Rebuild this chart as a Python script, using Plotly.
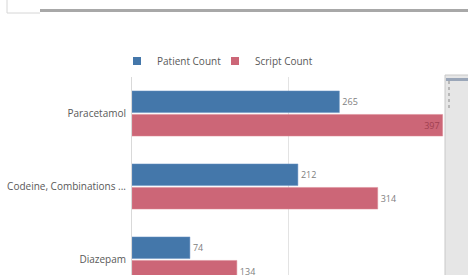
import plotly.graph_objects as go

categories = ["Paracetamol", "Codeine, Combinations ...", "Diazepam"]
patient_count = [265, 212, 74]
script_count = [397, 314, 134]
series_names = ["Patient Count", "Script Count"]
series_colors = ["#4477aa", "#cc6677"]

W, H = 468, 275
L, R, T, B = 132, 23, 77, 0
plot_w = W - L - R
plot_h = H - T - B
step = 73.0
ymax = plot_h / step - 0.5

font_family = "Open Sans, DejaVu Sans, sans-serif"

fig = go.Figure()
fig.add_trace(go.Bar(
    y=categories, x=patient_count, name=series_names[0], orientation="h",
    marker=dict(color=series_colors[0], line=dict(color="#6a93c4", width=0.5)),
    text=[str(v) for v in patient_count], textposition="outside",
    textfont=dict(size=9, color="#808080", family=font_family),
    cliponaxis=False, showlegend=False,
))
fig.add_trace(go.Bar(
    y=categories, x=script_count, name=series_names[1], orientation="h",
    marker=dict(color=series_colors[1], line=dict(color="#dd8a97", width=0.5)),
    text=[str(v) for v in script_count],
    textposition=["inside", "outside", "outside"],
    insidetextanchor="end",
    insidetextfont=dict(size=9, color="#a04050", family=font_family),
    outsidetextfont=dict(size=9, color="#808080", family=font_family),
    cliponaxis=False, showlegend=False,
))
# legend entries with small square symbols
for name, col in zip(series_names, series_colors):
    fig.add_trace(go.Scatter(
        x=[None], y=[None], mode="markers", name=name,
        marker=dict(symbol="square", size=8, color=col),
        showlegend=True,
    ))

def xd(px):
    return (px - L) / plot_w

def yp(py):
    return 1 + (T - py) / plot_h

fig.update_layout(
    width=W, height=H,
    margin=dict(l=L, r=R, t=T, b=B, pad=0, autoexpand=False),
    paper_bgcolor="white", plot_bgcolor="white",
    barmode="group", bargap=0.356, bargroupgap=0.08,
    font=dict(family=font_family, size=10, color="#595959"),
    showlegend=True,
    legend=dict(
        orientation="h", xref="container", yref="container",
        x=(117) / W, xanchor="left", y=1 - 61 / H, yanchor="middle",
        font=dict(size=10, color="#595959"),
        traceorder="normal", itemwidth=30,
        entrywidth=53, entrywidthmode="pixels",
        bgcolor="rgba(0,0,0,0)",
    ),
    xaxis=dict(
        range=[0, 400], showgrid=True, gridcolor="#e3e3e3", gridwidth=1,
        tickvals=[0, 200, 400], showticklabels=False, zeroline=False,
        showline=False, fixedrange=True,
    ),
    yaxis=dict(
        range=[ymax, -0.5], showline=True, linecolor="#d9d9d9", linewidth=1,
        ticks="", ticklabelstandoff=3, tickfont=dict(size=10, color="#595959"),
        showgrid=False, fixedrange=True,
    ),
)

# search box remnants at the top of the screenshot
fig.add_shape(type="line", xref="x domain", yref="paper",
              x0=xd(7), x1=xd(7), y0=yp(0), y1=yp(13),
              line=dict(color="#d6d6d6", width=1))
fig.add_shape(type="line", xref="x domain", yref="paper",
              x0=xd(7), x1=xd(40), y0=yp(13), y1=yp(13),
              line=dict(color="#d6d6d6", width=1))
fig.add_shape(type="rect", xref="x domain", yref="paper",
              x0=xd(40), x1=xd(W), y0=yp(9), y1=yp(12),
              fillcolor="#a8a8a8", line=dict(width=0))
# right-hand mini chart / scroll panel
fig.add_shape(type="rect", xref="x domain", yref="paper",
              x0=xd(445), x1=xd(W + 2), y0=yp(75), y1=-0.02,
              fillcolor="#e6e6e6", line=dict(color="#c8c8c8", width=1))
fig.add_shape(type="rect", xref="x domain", yref="paper",
              x0=xd(446), x1=xd(W + 2), y0=yp(78), y1=yp(81),
              fillcolor="#9aa6b8", line=dict(width=0))
fig.add_shape(type="line", xref="x domain", yref="paper",
              x0=xd(449), x1=xd(449), y0=yp(81), y1=yp(110),
              line=dict(color="#8a8a8a", width=1, dash="dot"))

fig.write_html("out.html",
               config={"displayModeBar": False},
               post_script="document.body.style.margin='0';document.body.style.overflow='hidden';")
